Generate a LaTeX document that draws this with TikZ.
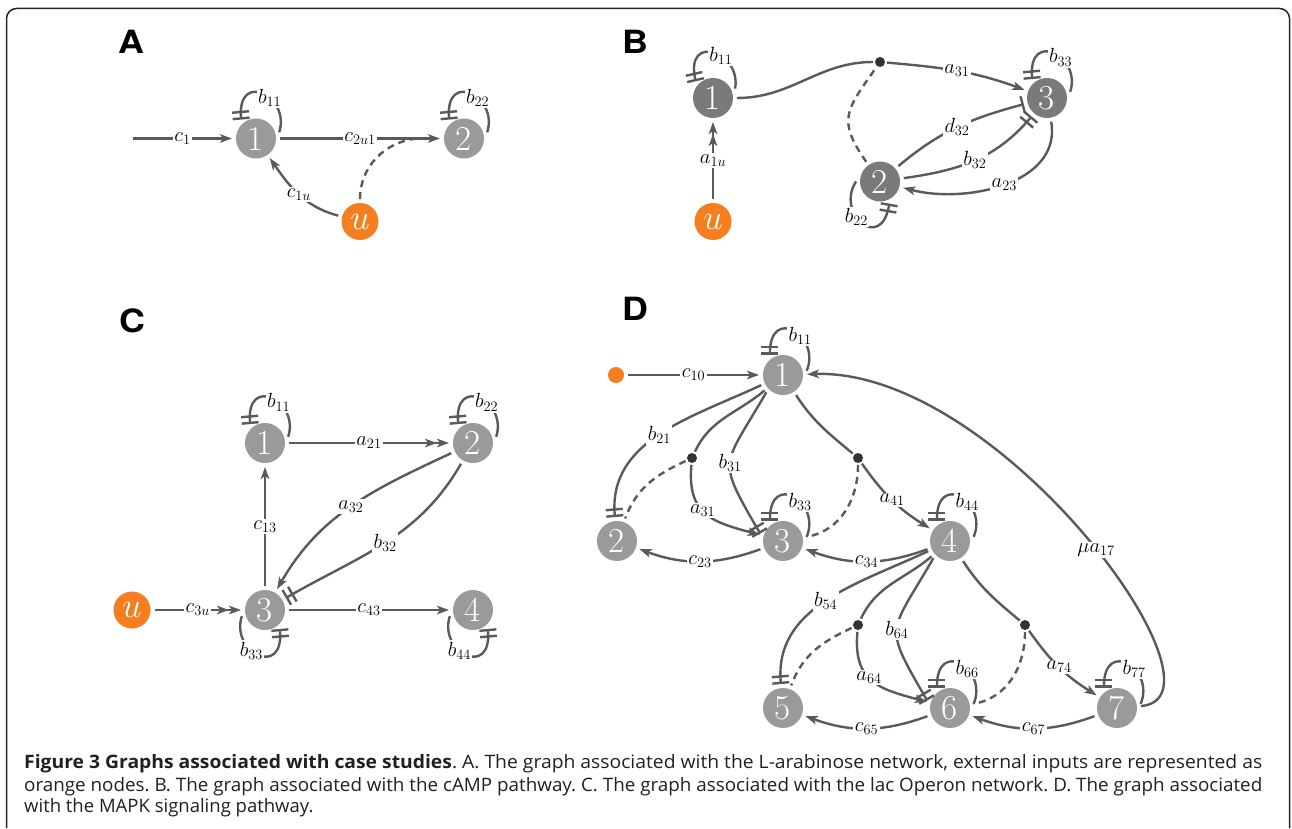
\RequirePackage{fix-cm}
\documentclass[tikz,border=0pt]{standalone}
\usepackage{fontspec}
\usepackage{graphicx}
\newfontfamily\capfont{Open Sans}
\newfontfamily\panelfont{TeX Gyre Heros}
\usetikzlibrary{arrows.meta}

\definecolor{edgecol}{HTML}{5A5A5A}
\definecolor{nodegray}{HTML}{9A9A9A}
\definecolor{nodedark}{HTML}{7A7A7A}
\definecolor{inorange}{HTML}{F47E20}
\definecolor{dotcol}{HTML}{333333}
\definecolor{captext}{HTML}{231F20}

\tikzset{
  edge/.style={draw=edgecol, line width=2.4pt},
  act/.style={-{Stealth[length=12pt,width=8.5pt,inset=3pt]}},
  act2/.style={-{Stealth[length=12pt,width=8.5pt,inset=3pt]Stealth[length=12pt,width=8.5pt,inset=3pt]}},
  inh/.style={-{Bar[width=17pt,line width=2.4pt]}},
  inh2/.style={-{Bar[width=17pt,line width=2.4pt,sep=4pt]Bar[width=17pt,line width=2.4pt]}},
  dashedge/.style={dash pattern=on 7pt off 5pt},
  lbl/.style={fill=white, inner sep=1.5pt, font=\fontsize{20.5}{20.5}\selectfont},
  gnode/.style={circle, fill=nodegray, minimum size=40pt, inner sep=0pt, outer sep=4pt,
                text=white, font=\fontsize{35}{35}\selectfont},
  bnode/.style={gnode, fill=nodedark},
  unode/.style={gnode, fill=inorange, minimum size=37pt},
  srcnode/.style={circle, fill=inorange, minimum size=16pt, inner sep=0pt, outer sep=4pt},
  dotnode/.style={circle, fill=dotcol, minimum size=10pt, inner sep=0pt, outer sep=2pt},
  panel/.style={inner sep=0pt, font=\panelfont\bfseries\fontsize{32}{32}\selectfont},
  capline/.style={anchor=base west, inner sep=0pt, text=captext,
                  font=\capfont\frenchspacing\fontsize{18.5}{18.5}\selectfont}
}

% self-regulation loop: node, rotation, label
\newcommand\sloop[3]{%
  \pgfmathtruncatemacro\sla{15+#2}%
  \pgfmathtruncatemacro\slb{128+#2}%
  \pgfmathtruncatemacro\slc{72+#2}%
  \pgfmathtruncatemacro\sld{95+#2}%
  \draw[edge,inh2] (#1.\sla) .. controls +(\slc:38) and +(\sld:50) .. (#1.\slb)
    node[lbl,pos=0.4]{$#3$};}

\begin{document}
\begin{tikzpicture}[x=1pt,y=1pt]
\useasboundingbox (0,0) rectangle (1292,828);

% outer frame
\draw[line width=1.5pt, black!85] (6.5,0) -- (6.5,809.5)
  arc[start angle=180,end angle=90,radius=10] -- (1279.5,819.5)
  arc[start angle=90,end angle=0,radius=10] -- (1289.5,0);

% ---------------- A ----------------
\node[panel] (lA) at (131,786) {\scalebox{1.12}[1]{A}};
\node[gnode] (a1) at (256,689.5) {1};
\node[gnode] (a2) at (464,689.5) {2};
\node[unode] (au) at (360,606.5) {$u$};
\coordinate (ain) at (133,689.5);
\draw[edge,act] (ain) -- node[lbl]{$c_1$} (a1);
\draw[edge,act] (a1) -- coordinate[pos=0.86] (am) node[lbl]{$c_{2u1}$} (a2);
\draw[edge,act] (au) to[out=165,in=-55] node[lbl]{$c_{1u}$} (a1);
\draw[edge,dashedge] (au) to[out=90,in=185] (am);
\sloop{a1}{0}{b_{11}}
\sloop{a2}{0}{b_{22}}

% ---------------- B ----------------
\node[panel] (lB) at (635,786) {\scalebox{1.12}[1]{B}};
\node[bnode] (b1) at (713,730) {1};
\node[unode] (bu) at (713,606.5) {$u$};
\node[dotnode] (bd) at (880,766) {};
\node[bnode] (b3) at (1047,730) {3};
\node[bnode] (b2) at (880,646.5) {2};
\draw[edge,act2] (bu) -- node[lbl]{$a_{1u}$} (b1);
\draw[edge] (b1) to[out=0,in=180] (bd);
\draw[edge,act] (bd) to[out=-5,in=160] node[lbl]{$a_{31}$} (b3);
\draw[edge,dashedge] (b2) to[out=125,in=235,looseness=1.4] (bd);
\draw[edge,inh] (b2) to[out=40,in=195] node[lbl]{$d_{32}$} (b3);
\draw[edge,inh2] (b2) to[out=8,in=230] node[lbl]{$b_{32}$} (b3);
\draw[edge,act] (b3) to[out=-80,in=-15] node[lbl]{$a_{23}$} (b2);
\sloop{b1}{8}{b_{11}}
\sloop{b3}{0}{b_{33}}
\sloop{b2}{165}{b_{22}}

% ---------------- C ----------------
\node[panel] (lC) at (132,507) {\scalebox{1.12}[1]{C}};
\node[gnode] (c1) at (265,385) {1};
\node[gnode] (c2) at (473,385) {2};
\node[gnode] (c3) at (265,218) {3};
\node[gnode] (c4) at (473,218) {4};
\node[unode] (cu) at (132,218) {$u$};
\draw[edge,act2] (c1) -- node[lbl]{$a_{21}$} (c2);
\draw[edge,act] (c3) -- node[lbl]{$c_{13}$} (c1);
\draw[edge,act2] (cu) -- node[lbl]{$c_{3u}$} (c3);
\draw[edge,act] (c3) -- node[lbl]{$c_{43}$} (c4);
\draw[edge,act] (c2) to[out=205,in=60] node[lbl]{$a_{32}$} (c3);
\draw[edge,inh2] (c2) to[out=240,in=30] node[lbl]{$b_{32}$} (c3);
\sloop{c1}{0}{b_{11}}
\sloop{c2}{0}{b_{22}}
\sloop{c3}{180}{b_{33}}
\sloop{c4}{180}{b_{44}}

% ---------------- D ----------------
\node[panel] (lD) at (635,519) {\scalebox{1.12}[1]{D}};
\node[srcnode] (src) at (616,453) {};
\node[gnode] (d1) at (783,453) {1};
\node[gnode] (d2) at (617,287) {2};
\node[gnode] (d3) at (783,287) {3};
\node[gnode] (d4) at (950,287) {4};
\node[gnode] (d5) at (783,120) {5};
\node[gnode] (d6) at (950,120) {6};
\node[gnode] (d7) at (1117,120) {7};
\node[dotnode] (p1) at (692,370) {};
\node[dotnode] (p2) at (858,370) {};
\node[dotnode] (p3) at (858,203) {};
\node[dotnode] (p4) at (1025,203) {};

\draw[edge,act] (src) -- node[lbl]{$c_{10}$} (d1);
\draw[edge,act] (d7) .. controls (1240,130) and (1000,460) .. (d1)
  node[lbl,pos=0.47]{$\mu a_{17}$};

% node 1 to the second row
\draw[edge,inh2] (d1) to[out=205,in=95] node[lbl]{$b_{21}$} (d2);
\draw[edge] (d1) to[out=220,in=65] (p1);
\draw[edge,act] (p1) to[out=265,in=165,looseness=1.3] node[lbl,pos=0.45]{$a_{31}$} (d3.165);
\draw[edge,dashedge] (p1) to[out=205,in=70] (d2);
\draw[edge,inh2] (d1.226) to[out=240,in=120,looseness=1.6] node[lbl]{$b_{31}$} (d3.162);
\draw[edge] (d1) to[out=-57,in=140] (p2);
\draw[edge,act] (p2) to[out=-55,in=148] node[lbl]{$a_{41}$} (d4);
\draw[edge,dashedge] (p2) to[out=-90,in=10] (d3);
\draw[edge,act] (d3) to[out=200,in=-20] node[lbl]{$c_{23}$} (d2);
\draw[edge,act] (d4) to[out=200,in=-20] node[lbl]{$c_{34}$} (d3);

% node 4 to the third row
\draw[edge,inh2] (d4) to[out=205,in=95] node[lbl]{$b_{54}$} (d5);
\draw[edge] (d4) to[out=220,in=65] (p3);
\draw[edge,act] (p3) to[out=265,in=165,looseness=1.3] node[lbl,pos=0.45]{$a_{64}$} (d6.165);
\draw[edge,dashedge] (p3) to[out=205,in=70] (d5);
\draw[edge,inh2] (d4.226) to[out=240,in=120,looseness=1.6] node[lbl]{$b_{64}$} (d6.162);
\draw[edge] (d4) to[out=-57,in=140] (p4);
\draw[edge,act] (p4) to[out=-55,in=148] node[lbl]{$a_{74}$} (d7);
\draw[edge,dashedge] (p4) to[out=-90,in=10] (d6);
\draw[edge,act] (d6) to[out=200,in=-20] node[lbl]{$c_{65}$} (d5);
\draw[edge,act] (d7) to[out=200,in=-20] node[lbl]{$c_{67}$} (d6);

\sloop{d1}{-5}{b_{11}}
\sloop{d3}{-5}{b_{33}}
\sloop{d4}{-5}{b_{44}}
\sloop{d6}{-5}{b_{66}}
\sloop{d7}{-5}{b_{77}}

% ---------------- caption ----------------
\node[capline] (cap1) at (24,60) {\resizebox{1238pt}{\height}{\textbf{Figure 3 Graphs associated with case studies}. A. The graph associated with the L-arabinose network, external inputs are represented as}};
\node[capline] (cap2) at (24,37) {\resizebox{1238pt}{\height}{orange nodes. B. The graph associated with the cAMP pathway. C. The graph associated with the lac Operon network. D. The graph associated}};
\node[capline] (cap3) at (24,15.5) {with the MAPK signaling pathway.};
\end{tikzpicture}
\end{document}
